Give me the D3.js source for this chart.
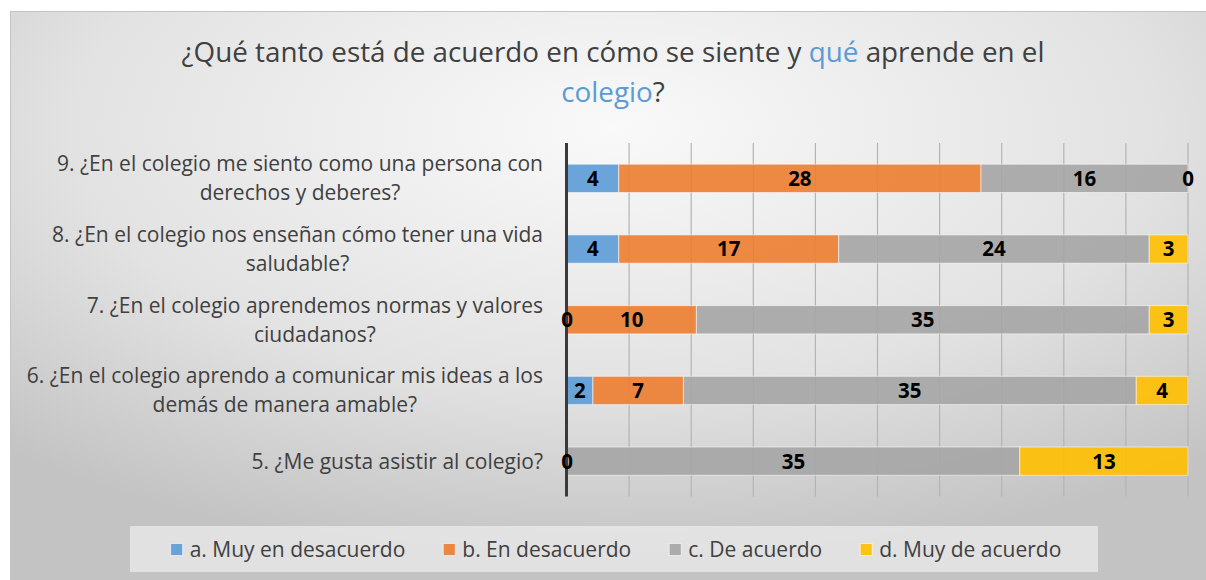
<!DOCTYPE html>
<html>
<head>
<meta charset="utf-8">
<script src="https://cdn.jsdelivr.net/npm/d3@7"></script>
<style>
  body { margin: 0; background: #fff; }
  svg { display: block; font-family: "Open Sans", Lato, sans-serif; }
</style>
</head>
<body>
<script>
'use strict';

// categories top to bottom, each split in the lines shown on the chart
const categories = [
    ["9. ¿En el colegio me siento como una persona con", "derechos y deberes?"],
    ["8. ¿En el colegio nos enseñan cómo tener una vida", "saludable?"],
    ["7. ¿En el colegio aprendemos normas y valores", "ciudadanos?"],
    ["6. ¿En el colegio aprendo a comunicar mis ideas a los", "demás de manera amable?"],
    ["5. ¿Me gusta asistir al colegio?"]
]
const seriesNames = ["a. Muy en desacuerdo", "b. En desacuerdo", "c. De acuerdo", "d. Muy de acuerdo"]
const muyDesacuerdo = [4, 4, 0, 2, 0]
const enDesacuerdo = [28, 17, 10, 7, null]
const deAcuerdo = [16, 24, 35, 35, 35]
const muyDeAcuerdo = [0, 3, 3, 4, 13]
const colors = ["#5b9bd5", "#ed7d31", "#a5a5a5", "#ffc000"]

const W = 1206, H = 580
const plot = { left: 567, right: 1188, top: 143, bottom: 496.5 }

let svg = d3.select("body").append("svg")
    .attr("width", W)
    .attr("height", H)

let defs = svg.append("defs")
let grad = defs.append("radialGradient")
    .attr("id", "bg")
    .attr("cx", "50%").attr("cy", "20%").attr("r", "75%")
    .attr("gradientUnits", "objectBoundingBox")
grad.append("stop").attr("offset", "0%").attr("stop-color", "#f9f9f9")
grad.append("stop").attr("offset", "60%").attr("stop-color", "#e2e2e2")
grad.append("stop").attr("offset", "100%").attr("stop-color", "#c3c3c3")

svg.append("rect")
    .attr("x", 10.5).attr("y", 11.5)
    .attr("width", W).attr("height", H)
    .attr("fill", "url(#bg)")
    .attr("stroke", "#c4c4c4")

// title
let title = svg.append("text")
    .attr("text-anchor", "middle")
    .attr("font-size", "27.8px")
    .attr("fill", "#404040")
let t1 = title.append("tspan").attr("x", 613).attr("y", 62)
t1.append("tspan").text("¿Qué tanto está de acuerdo en cómo se siente y ")
t1.append("tspan").attr("fill", "#5b9bd5").text("qué")
t1.append("tspan").text(" aprende en el")
let t2 = title.append("tspan").attr("x", 613).attr("y", 102)
t2.append("tspan").attr("fill", "#5b9bd5").text("colegio")
t2.append("tspan").text("?")

// data table
let rows = categories.map((c, i) => ({
    id: i,
    lines: c,
    a: muyDesacuerdo[i],
    b: enDesacuerdo[i],
    c: deAcuerdo[i],
    d: muyDeAcuerdo[i]
}))
const keys = ["a", "b", "c", "d"]

let stack = d3.stack()
    .keys(keys)
    .value((d, k) => d[k] == null ? 0 : d[k])
    .offset(d3.stackOffsetExpand)
let series = stack(rows)

let x = d3.scaleLinear()
    .domain([0, 1])
    .range([plot.left, plot.right])

let y = d3.scaleBand()
    .domain(rows.map(d => d.id))
    .range([plot.top, plot.bottom])
    .paddingInner(0.6)
    .paddingOuter(0.3)

// gridlines
svg.append("g")
    .attr("id", "grid")
    .selectAll("line")
    .data(x.ticks(10).slice(1))
    .enter()
    .append("line")
    .attr("x1", d => x(d)).attr("x2", d => x(d))
    .attr("y1", plot.top).attr("y2", plot.bottom)
    .attr("stroke", "#b4b4b4")
    .attr("stroke-width", 1.2)

// bars
let layers = svg.append("g").attr("id", "bars")
    .selectAll("g")
    .data(series)
    .enter()
    .append("g")
    .attr("fill", (d, i) => colors[i])

layers.selectAll("rect")
    .data(d => d.filter(p => p[1] - p[0] > 0))
    .enter()
    .append("rect")
    .attr("x", d => x(d[0]))
    .attr("y", d => y(d.data.id))
    .attr("width", d => x(d[1]) - x(d[0]))
    .attr("height", y.bandwidth())
    .attr("fill-opacity", 0.9)
    .attr("stroke", "rgba(255,255,255,0.55)")
    .attr("stroke-width", 1)

// axis line
svg.append("line")
    .attr("x1", plot.left - 0.5).attr("x2", plot.left - 0.5)
    .attr("y1", plot.top).attr("y2", plot.bottom)
    .attr("stroke", "#3a3a3a")
    .attr("stroke-width", 3)

// value labels, drawn above the axis line
let valueLabels = svg.append("g").attr("id", "values")
series.forEach(function (s) {
    valueLabels.selectAll(".v-" + s.key)
        .data(s.filter(p => p.data[s.key] != null))
        .enter()
        .append("text")
        .attr("class", "v-" + s.key)
        .attr("x", d => x((d[0] + d[1]) / 2))
        .attr("y", d => y(d.data.id) + y.bandwidth() / 2)
        .attr("dy", "0.36em")
        .attr("text-anchor", "middle")
        .attr("font-size", "20.5px")
        .attr("font-weight", "bold")
        .attr("fill", "#000")
        .text(d => d.data[s.key])
})

// category labels, each block centered on its widest line
let labelRight = 543
let lineGap = 29
rows.forEach(function (r) {
    let g = svg.append("g").attr("class", "cat")
    let n = r.lines.length
    let cy = y(r.id) + y.bandwidth() / 2
    let texts = r.lines.map((line, j) => g.append("text")
        .attr("y", cy + (j - (n - 1) / 2) * lineGap)
        .attr("dy", "0.35em")
        .attr("text-anchor", "middle")
        .attr("font-size", "21px")
        .attr("fill", "#404040")
        .text(line))
    let widest = d3.max(texts, t => t.node().getComputedTextLength())
    texts.forEach(t => t.attr("x", labelRight - widest / 2))
})

// legend
let legendBox = { x: 130, y: 526, w: 968, h: 46 }
let legend = svg.append("g").attr("id", "legend")
legend.append("rect")
    .attr("x", legendBox.x).attr("y", legendBox.y)
    .attr("width", legendBox.w).attr("height", legendBox.h)
    .attr("fill", "#ebebeb")
    .attr("fill-opacity", 0.75)

let items = legend.selectAll(".item")
    .data(seriesNames)
    .enter()
    .append("g")
    .attr("class", "item")
items.append("rect")
    .attr("width", 12).attr("height", 12)
    .attr("y", -6)
    .attr("fill", (d, i) => colors[i])
    .attr("fill-opacity", 0.9)
    .attr("stroke", "rgba(255,255,255,0.6)")
items.append("text")
    .attr("x", 19)
    .attr("dy", "0.35em")
    .attr("font-size", "21px")
    .attr("fill", "#404040")
    .text(d => d)

let itemGap = 38
let widths = []
items.each(function () { widths.push(this.getBBox().width) })
let total = d3.sum(widths) + itemGap * (widths.length - 1)
let cx = legendBox.x + (legendBox.w - total) / 2 + 2
items.attr("transform", function (d, i) {
    let pos = cx
    cx += widths[i] + itemGap
    return "translate(" + pos + "," + (legendBox.y + legendBox.h / 2 + 0.5) + ")"
})
</script>
</body>
</html>
